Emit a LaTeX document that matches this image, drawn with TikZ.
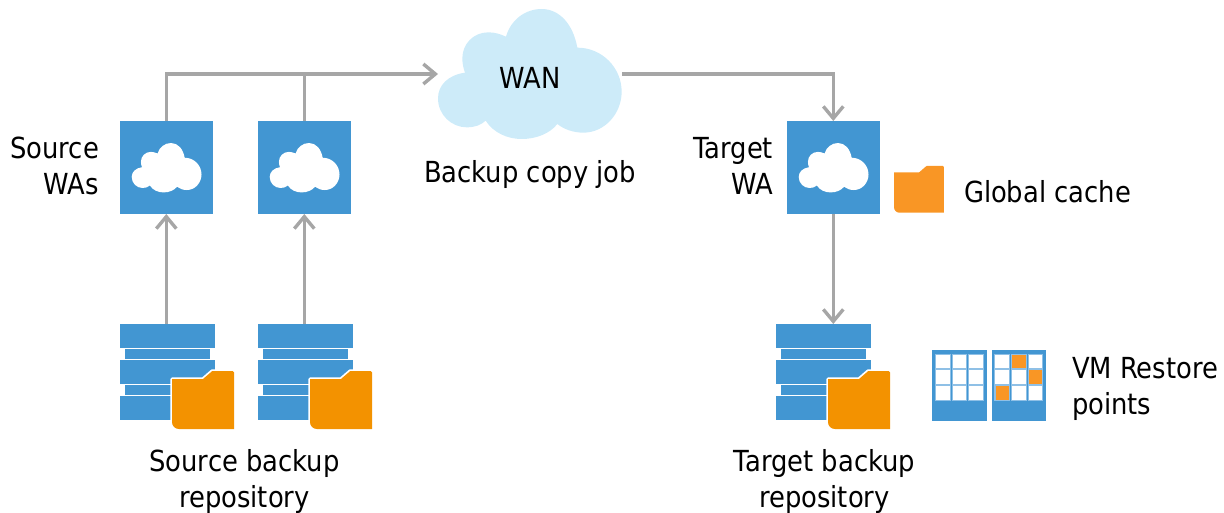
\documentclass[tikz,border=0pt]{standalone}
\usepackage{fontspec}
\setmainfont[FakeStretch=0.89]{DejaVu Sans}
\usetikzlibrary{arrows.meta}
\definecolor{boxblue}{HTML}{4296D2}
\definecolor{lineblue}{HTML}{8FC0E6}
\definecolor{wancloud}{HTML}{CDEBF9}
\definecolor{foldera}{HTML}{F39200}
\definecolor{folderb}{HTML}{F99625}
\definecolor{linkgray}{HTML}{A6A6A6}
\newcommand{\cloudshape}{(135,218)
 .. controls (85,225) and (54,255) .. (54,295)
 .. controls (54,345) and (95,382) .. (140,382)
 .. controls (165,382) and (183,375) .. (197,362)
 .. controls (220,398) and (262,417) .. (305,417)
 .. controls (350,417) and (390,400) .. (412,372)
 .. controls (432,388) and (460,398) .. (490,398)
 .. controls (555,398) and (605,340) .. (605,275)
 .. controls (605,205) and (548,143) .. (472,143)
 .. controls (460,75) and (420,27) .. (365,27)
 .. controls (315,27) and (272,60) .. (258,110)
 .. controls (240,102) and (225,97) .. (205,97)
 .. controls (160,97) and (127,132) .. (127,175)
 .. controls (127,190) and (130,205) .. (135,218) -- cycle}
\newcommand{\foldershape}{(0,8) -- (31,8) -- (39.7,0.5) -- (40.5,0) -- (60.5,0) -- (62,1.5) -- (62,58) -- (7,58)
 .. controls (3,58) and (0,55) .. (0,51) -- cycle}
\newcommand{\smallcloud}[1]{\begin{scope}[shift={(#1,0)},shift={(124.86,139.6)},scale=0.1267]
  \fill[white] \cloudshape;
 \end{scope}}
\newcommand{\stack}[2]{\begin{scope}[shift={(#1,0)}]
  \node[slab] (#2) at (167,336) {};
  \node[thinslab] at (167,354.2) {};
  \node[slab] at (167,372) {};
  \node[thinslab] at (167,390.2) {};
  \node[slab] at (167,408) {};
  \begin{scope}[shift={(172,371)}]
   \filldraw[draw=white,line width=3.5pt,fill=foldera,line join=round] \foldershape;
   \fill[foldera] \foldershape;
  \end{scope}
 \end{scope}}
\newcommand{\panel}[1]{\fill[boxblue] (#1,350) rectangle ++(54.5,71);
 \foreach \cx in {3,19.7,36.2} \foreach \cy in {354,369.8,385.5}
  {\filldraw[draw=lineblue,line width=0.7pt,fill=white] (#1+\cx,\cy) rectangle ++(14.7,14.5);}}
\tikzset{
 link/.style={draw=linkgray,line width=3.4pt},
 linkarrow/.style={link,-{Straight Barb[length=12pt,width=20pt,line width=3.4pt]}},
 wabox/.style={fill=boxblue,minimum width=93pt,minimum height=93pt,inner sep=0pt,outer sep=0pt},
 slab/.style={fill=boxblue,minimum width=95pt,minimum height=24pt,inner sep=0pt,outer sep=0pt},
 thinslab/.style={fill=boxblue,minimum width=85pt,minimum height=10pt,inner sep=0pt,outer sep=0pt},
 lbl/.style={inner sep=0pt,outer sep=0pt,font=\fontsize{29}{36}\selectfont,text=black},
}
\begin{document}
\begin{tikzpicture}[x=1pt,y=-1pt]
\useasboundingbox (0,0) rectangle (1224,513);
% WAN cloud
\begin{scope}[shift={(420,0)},scale=1/3]
 \fill[wancloud] \cloudshape;
\end{scope}
\node[inner sep=0pt,outer sep=0pt,minimum width=184pt,minimum height=130pt] (wan) at (530,74) {};
\node[lbl] (wanlabel) at (530,77.5) {WAN};
% WA boxes
\node[wabox] (wa1) at (166.3,167.5) {};
\node[wabox] (wa2) at (304.3,167.5) {};
\node[wabox] (wa3) at (833.3,167.5) {};
\smallcloud{0}
\smallcloud{138}
\smallcloud{667}
% repositories
\stack{0}{s1}
\stack{138}{s2}
\stack{656}{s3}
% global cache folder
\begin{scope}[shift={(894,166)},scale=0.806]
 \fill[folderb] \foldershape;
\end{scope}
% restore points
\panel{932.3}
\panel{991.8}
\foreach \px/\py in {1011.5/354,1028/369.8,995/385.5}
 {\filldraw[draw=lineblue,line width=0.7pt,fill=folderb] (\px,\py) rectangle ++(14.7,14.5);}
% connectors
\draw[link] (wa2.north) -- (wa2.north |- wan.west);
\draw[linkarrow] (wa1.north) |- (wan.west);
\draw[linkarrow] (wan.east) -| (wa3.north);
\draw[linkarrow] (s1.north -| wa1.south) -- (wa1.south);
\draw[linkarrow] (s2.north -| wa2.south) -- (wa2.south);
\draw[linkarrow] (wa3.south) -- (s3.north -| wa3.south);
% labels
\node[lbl,align=right,anchor=east] (lsrc) at (99,166) {Source\\WAs};
\node[lbl,align=right,anchor=east] (ltgt) at (773,166) {Target\\WA};
\node[lbl] (ljob) at (530,175) {Backup copy job};
\node[lbl,anchor=west] (lcache) at (964,192) {Global cache};
\node[lbl,align=left,anchor=west] (lvm) at (1072,389) {VM Restore\\points};
\node[lbl,align=center] (lsb) at (244.5,481) {Source backup\\repository};
\node[lbl,align=center] (ltb) at (824.5,481) {Target backup\\repository};
\end{tikzpicture}
\end{document}
